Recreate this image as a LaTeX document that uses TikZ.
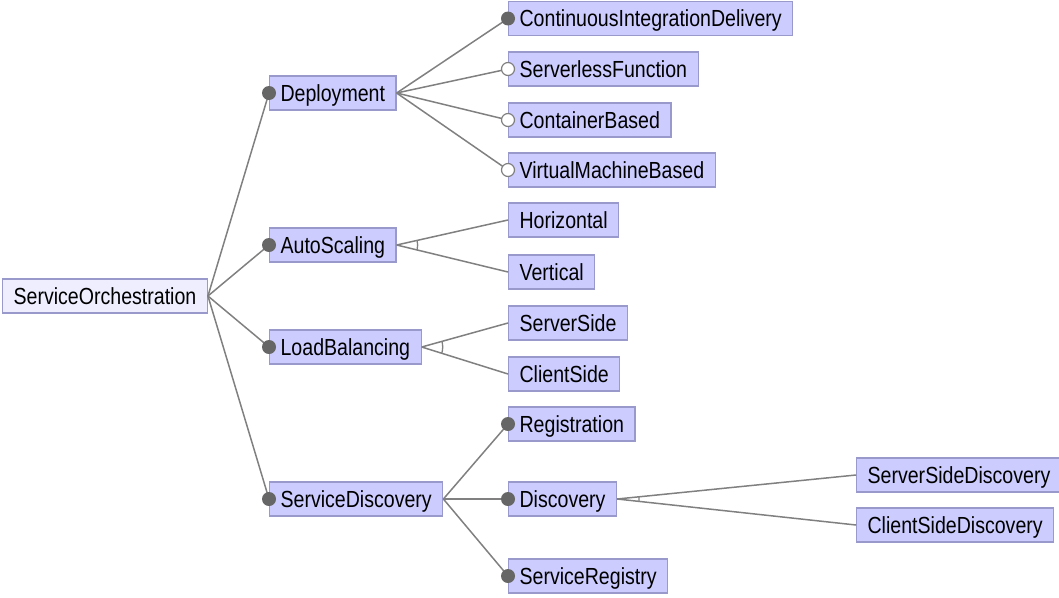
\documentclass[tikz,border=0pt]{standalone}
\usepackage{fontspec}
\setmainfont[FakeStretch=0.84]{Liberation Sans}
\usetikzlibrary{calc}
\definecolor{featfill}{RGB}{204,204,255}
\definecolor{featline}{RGB}{153,153,204}
\definecolor{rootfill}{RGB}{238,238,255}
\definecolor{edgegray}{RGB}{128,128,128}
\definecolor{dotgray}{RGB}{102,102,102}

\tikzset{
  feature/.style={draw=featline, fill=featfill, line width=1.2pt, anchor=west,
    minimum height=34pt, inner xsep=11pt, inner ysep=0pt,
    text height=16.7pt, text depth=0pt, font=\fontsize{23.3}{26}\selectfont},
  rootfeature/.style={feature, fill=rootfill},
  link/.style={draw=edgegray, line width=1.5pt},
  mandatory/.style={circle, fill=dotgray, inner sep=0pt, minimum size=14pt},
  optional/.style={circle, draw=edgegray, fill=white, line width=1.2pt, inner sep=0pt, minimum size=13pt},
  altarc/.style={draw=edgegray, line width=1.3pt},
}

% open arc marking an alternative group: #1 parent end, #2/#3 outer children, #4 radius
\newcommand{\altgroup}[4]{%
  \draw[altarc] let \p1=($(#2)-(#1)$), \p2=($(#3)-(#1)$),
    \n1={atan2(\y1,\x1)}, \n2={atan2(\y2,\x2)} in
    ($(#1)+(\n1:#4)$) arc[start angle=\n1, end angle=\n2, radius=#4];}

\begin{document}
\begin{tikzpicture}[x=1pt, y=-1pt]
  \useasboundingbox (0,0) rectangle (1059,597);

  % features
  \node[rootfeature] (root) at (2,296) {ServiceOrchestration};
  \node[feature] (dep)  at (269,93)  {Deployment};
  \node[feature] (as)   at (269,245) {AutoScaling};
  \node[feature] (lb)   at (269,347) {LoadBalancing};
  \node[feature] (sd)   at (269,499) {ServiceDiscovery};

  \node[feature] (cid)  at (508,18.5) {ContinuousIntegrationDelivery};
  \node[feature] (slf)  at (508,69)  {ServerlessFunction};
  \node[feature] (cb)   at (508,120) {ContainerBased};
  \node[feature] (vmb)  at (508,170) {VirtualMachineBased};

  \node[feature] (hor)  at (508,220) {Horizontal};
  \node[feature] (ver)  at (508,272) {Vertical};

  \node[feature] (ss)   at (508,323) {ServerSide};
  \node[feature] (cs)   at (508,374) {ClientSide};

  \node[feature] (reg)  at (508,424) {Registration};
  \node[feature] (disc) at (508,499) {Discovery};
  \node[feature] (sr)   at (508,576) {ServiceRegistry};

  \node[feature] (ssd)  at (856,475) {ServerSideDiscovery};
  \node[feature] (csd)  at (856,525) {ClientSideDiscovery};

  % connectors
  \foreach \c in {dep,as,lb,sd} \draw[link] (root.east) -- (\c.west);
  \foreach \c in {cid,slf,cb,vmb} \draw[link] (dep.east) -- (\c.west);
  \foreach \c in {hor,ver} \draw[link] (as.east) -- (\c.west);
  \foreach \c in {ss,cs} \draw[link] (lb.east) -- (\c.west);
  \foreach \c in {reg,disc,sr} \draw[link] (sd.east) -- (\c.west);
  \foreach \c in {ssd,csd} \draw[link] (disc.east) -- (\c.west);

  % alternative groups
  \altgroup{as.east}{hor.west}{ver.west}{21pt}
  \altgroup{lb.east}{ss.west}{cs.west}{21pt}
  \altgroup{disc.east}{ssd.west}{csd.west}{22pt}

  % mandatory and optional markers
  \foreach \c in {dep,as,lb,sd,cid,reg,disc,sr}
    \node[mandatory] at (\c.west) {};
  \foreach \c in {slf,cb,vmb}
    \node[optional] at (\c.west) {};
\end{tikzpicture}
\end{document}
